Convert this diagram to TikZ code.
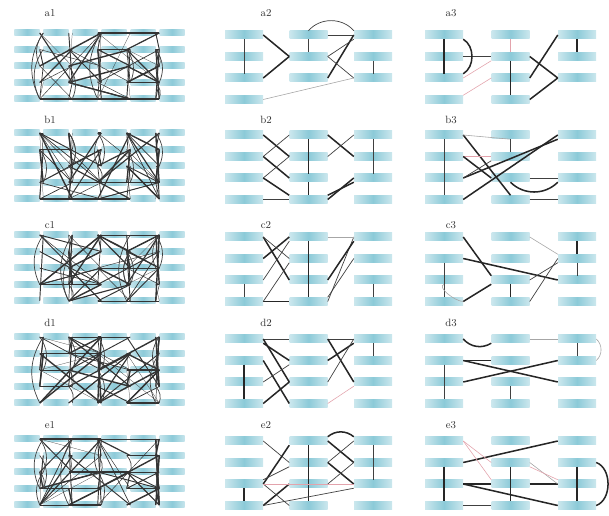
\documentclass[tikz,border=0pt]{standalone}
\usetikzlibrary{positioning}
\definecolor{cellcyan}{HTML}{8CCAD8}
\definecolor{linkpink}{HTML}{E3A3AC}
\definecolor{tagtext}{HTML}{333333}

\begin{document}
\begin{tikzpicture}[
    x=0.03cm, y=-0.03cm,
    every node/.style={font=\small},
    tinybox/.style={rectangle, inner sep=0pt, minimum width=0.75cm,
                 minimum height=0.18cm, left color=cellcyan!50,
                 right color=cellcyan!50, middle color=cellcyan},
    widebox/.style={rectangle, inner sep=0pt, minimum width=1.14cm,
                 minimum height=0.24cm, left color=cellcyan!45,
                 right color=cellcyan!45, middle color=cellcyan},
    paneltag/.style={font=\small, text=tagtext},
    tk/.style={line width=1.3pt, black!85},
    tn/.style={line width=0.6pt, black!75},
    gy/.style={line width=0.5pt, gray!70},
    pk/.style={line width=0.5pt, linkpink},
]
\useasboundingbox (0,0) rectangle (609,516);

% cell grids of the fifteen panels
\foreach \p/\ty/\lastb/\lastc in {a/35/1/2, b/135/3/3, c/237/3/3, d/339/3/3, e/441/3/3} {
  \foreach \r in {1,...,5}
    \foreach \c in {1,...,6}
      \node[tinybox] (\p1-\r-\c) at ({27+29*(\c-1)}, {\ty-2+16.5*(\r-1)}) {};
  \foreach \r in {1,2,3}
    \foreach \c in {1,2,3} {
      \node[widebox] (\p2-\r-\c) at ({244+64.5*(\c-1)}, {\ty+21.5*(\r-1)}) {};
      \node[widebox] (\p3-\r-\c) at ({444+66.5*(\c-1)}, {\ty+21.5*(\r-1)}) {};
    }
  \foreach \c in {1,...,\lastb}
    \node[widebox] (\p2-4-\c) at ({244+64.5*(\c-1)}, {\ty+64.5}) {};
  \foreach \c in {1,...,\lastc}
    \node[widebox] (\p3-4-\c) at ({444+66.5*(\c-1)}, {\ty+64.5}) {};
}

% panel tags
\foreach \p/\ty in {a/13, b/120, c/225, d/323, e/425} {
  \node[paneltag] (tag-\p1) at (50,\ty) {\p1};
  \node[paneltag] (tag-\p2) at (266,\ty) {\p2};
  \node[paneltag] (tag-\p3) at (451,\ty) {\p3};
}

% dense links of the first column
\pgfmathsetseed{41}
\foreach \p in {a,b,c,d,e} {
  \foreach \k in {1,...,70} {
    \pgfmathrandominteger{\ra}{1}{5}
    \pgfmathrandominteger{\ca}{1}{5}
    \pgfmathrandominteger{\rb}{1}{5}
    \pgfmathrandominteger{\dc}{1}{3}
    \pgfmathsetmacro{\cb}{int(min(6,\ca+\dc))}
    \pgfmathrandominteger{\wd}{1}{6}
    \pgfmathsetmacro{\lw}{0.2*\wd}
    \draw[line width=\lw pt, black!80] (\p1-\ra-\ca.east) -- (\p1-\rb-\cb.west);
  }
  \foreach \k in {1,...,10} {
    \pgfmathrandominteger{\ra}{1}{5}
    \pgfmathrandominteger{\off}{0}{2}
    \pgfmathrandominteger{\ca}{1}{5}
    \pgfmathsetmacro{\cb}{int(\ca+1)}
    \pgfmathsetmacro{\rb}{int(mod(\ra+\off,5)+1)}
    \draw[tn] (\p1-\ra-\ca.east) to[bend left=30] (\p1-\rb-\cb.west);
  }
}

% panel a2
\foreach \s/\t/\k in {a2-1-1/a2-3-1/tn, a2-1-1.east/a2-2-2.west/tk,
    a2-3-1.east/a2-2-2.west/tk, a2-1-2/a2-2-2/tn, a2-1-2.east/a2-1-3.west/tn,
    a2-3-2.east/a2-1-3.west/tk, a2-2-2.east/a2-3-3.west/tn,
    a2-2-2.east/a2-1-3.south west/tn, a2-2-3/a2-3-3/tn, a2-4-1.east/a2-3-3.west/gy}
  \draw[\k] (\s) -- (\t);
\draw[tn] (a2-1-2.north) to[bend left=50] (a2-1-3.north west);

% panel a3
\foreach \s/\t/\k in {a3-1-1/a3-3-1/tk, a3-2-1.east/a3-2-2.west/tn,
    a3-3-1.east/a3-2-2.south west/pk, a3-3-2.east/a3-1-3.west/tk,
    a3-2-2.east/a3-3-3.west/tk, a3-2-2/a3-4-2/tk, a3-4-2.east/a3-3-3.west/tk,
    a3-1-3/a3-2-3/tk, a3-4-1.north east/a3-3-2.west/pk, a3-1-2/a3-2-2/pk}
  \draw[\k] (\s) -- (\t);
\draw[tk] (a3-1-1.south east) to[bend left=60] (a3-3-1.north east);

% panel b2
\foreach \s/\t/\k in {b2-1-1.east/b2-2-2.west/tk, b2-2-1.east/b2-1-2.west/tn,
    b2-1-2/b2-3-2/tk, b2-3-2/b2-4-2/tk, b2-1-2.east/b2-2-3.west/tk,
    b2-2-2.east/b2-1-3.west/tn, b2-1-3/b2-3-3/tn, b2-2-1.east/b2-3-2.west/tk,
    b2-3-1.east/b2-2-2.west/tn, b2-3-1.east/b2-4-2.north west/tk,
    b2-4-2.north east/b2-3-3.south west/tk, b2-4-2.east/b2-3-3.west/tk,
    b2-4-1.east/b2-4-2.west/tn}
  \draw[\k] (\s) -- (\t);

% panel b3
\foreach \s/\t/\k in {b3-1-1/b3-4-1/tn, b3-1-1.east/b3-4-2.north/tk,
    b3-4-1.east/b3-1-3.west/tk, b3-3-1.east/b3-1-3.south west/tk,
    b3-2-1.east/b3-2-2.west/pk, b3-1-1.east/b3-1-2.south/gy,
    b3-3-2.east/b3-3-3.west/tn, b3-4-2.east/b3-4-3.west/tn, b3-1-2/b3-2-2/tn,
    b3-2-1.east/b3-3-2.west/tk, b3-3-1.east/b3-2-2.south west/tn}
  \draw[\k] (\s) -- (\t);
\draw[tk] (b3-3-2.south) to[bend right=45] (b3-3-3.south west);

% panel c2
\foreach \s/\t/\k in {c2-1-1.east/c2-3-2.west/tk, c2-2-1.east/c2-1-2.west/tk,
    c2-1-1.east/c2-2-2.west/tn, c2-3-1.east/c2-1-2.south west/tn,
    c2-1-2/c2-4-2/tk, c2-3-1/c2-4-1/tn, c2-4-1.east/c2-4-2.west/tk,
    c2-4-2.east/c2-1-3.west/tn, c2-3-2.east/c2-1-3.south west/tk,
    c2-4-2.north east/c2-2-3.west/tn, c2-3-3/c2-4-3/tn,
    c2-1-2.east/c2-1-3.west/gy, c2-4-1.east/c2-2-2.south west/tn}
  \draw[\k] (\s) -- (\t);

% panel c3
\foreach \s/\t/\k in {c3-1-1.east/c3-3-2.north west/tk, c3-2-1.east/c3-3-3.west/tk,
    c3-2-3.west/c3-4-2.east/tn, c3-2-3.south west/c3-3-2.east/tn,
    c3-1-3/c3-2-3/tk, c3-2-3/c3-3-3/tn, c3-2-1/c3-4-1/tn,
    c3-4-1.east/c3-3-2.south west/tk, c3-3-2.south/c3-4-2/tk,
    c3-1-2.east/c3-2-3.north west/gy}
  \draw[\k] (\s) -- (\t);
\draw[gy] (c3-3-1.south) to[out=200, in=180, looseness=0.8] (c3-4-1.east);

% panel d2
\foreach \s/\t/\k in {d2-1-1.east/d2-1-2.west/tn, d2-1-2.east/d2-1-3.west/tn,
    d2-1-1.south east/d2-2-2.west/tk, d2-1-1.east/d2-3-2.west/tk,
    d2-2-1.east/d2-4-2.west/tk, d2-3-1.east/d2-2-2.south west/tn,
    d2-4-1.east/d2-3-2.west/tk, d2-2-1/d2-4-1/tk, d2-1-3/d2-2-3/tn,
    d2-1-2.east/d2-3-3.west/tk, d2-2-2.east/d2-1-3.south west/tk,
    d2-3-2.east/d2-1-3.west/tn, d2-4-2.east/d2-3-3.south west/pk}
  \draw[\k] (\s) -- (\t);

% panel d3
\foreach \s/\t/\k in {d3-2-1.east/d3-2-2.west/tk, d3-2-1/d3-4-1/tn,
    d3-2-1.east/d3-3-3.west/tk, d3-3-1.east/d3-2-3.west/tk,
    d3-1-2.east/d3-1-3.west/gy, d3-1-3/d3-2-3/tn, d3-3-2/d3-4-2/tn}
  \draw[\k] (\s) -- (\t);
\draw[tk] (d3-1-1.east) to[bend right=40] (d3-1-2.south west);
\draw[gy] (d3-1-3.east) to[bend left=50] (d3-2-3.east);

% panel e2
\foreach \s/\t/\k in {e2-1-1.east/e2-2-2.west/tn, e2-3-1.east/e2-1-2.south west/tk,
    e2-3-1.north east/e2-2-2.south west/tn, e2-1-2.east/e2-2-3.west/tk,
    e2-2-2.east/e2-1-3.west/tn, e2-2-2.east/e2-3-3.west/tk,
    e2-3-2.east/e2-2-3.west/tn, e2-1-3/e2-3-3/tn, e2-3-1/e2-4-1/tk,
    e2-1-2/e2-4-2/tk, e2-4-1.east/e2-3-2.west/tk, e2-3-1.east/e2-4-2.west/tn,
    e2-3-1.east/e2-3-3.west/pk, e2-4-1.east/e2-3-3.south west/tn}
  \draw[\k] (\s) -- (\t);
\draw[tk] (e2-1-2.north east) to[bend left=40] (e2-1-3.north west);

% panel e3
\foreach \s/\t/\k in {e3-2-1.east/e3-1-3.west/tk, e3-1-1.east/e3-2-2.west/pk,
    e3-2-1/e3-4-1/tk, e3-2-2/e3-4-2/tk, e3-2-3/e3-4-3/tk,
    e3-3-1.east/e3-3-2.west/tk, e3-3-2.east/e3-3-3.west/tk,
    e3-3-1.east/e3-4-3.west/tk, e3-2-2.east/e3-3-3.west/gy,
    e3-2-2.south east/e3-3-3.north west/pk, e3-4-1.east/e3-4-2.west/tn,
    e3-1-1.east/e3-3-2.north west/pk}
  \draw[\k] (\s) -- (\t);
\draw[tk] (e3-2-3.east) to[bend left=70] (e3-4-3.east);

\end{tikzpicture}
\end{document}
